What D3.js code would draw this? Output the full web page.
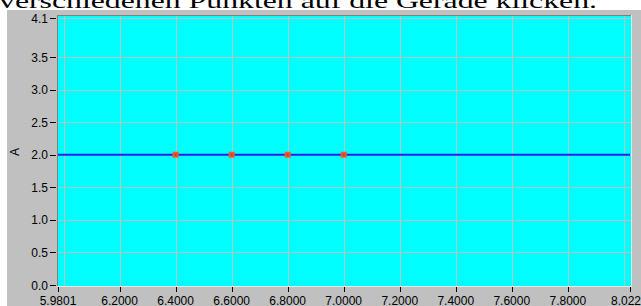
<!DOCTYPE html>
<html><head><meta charset="utf-8">
<script src="https://cdn.jsdelivr.net/npm/d3@7"></script>
<style>html,body{margin:0;padding:0;background:#fff;overflow:hidden}svg{display:block}</style>
</head><body>
<script>
// ---- data ----
const headingText = "verschiedenen Punkten auf die Gerade klicken.";
const yAxisLabel = "A";
const xMin = 5.9801, xMax = 8.022;
const yMin = 0.0, yMax = 4.1;
const xTickValues = [5.9801, 6.2, 6.4, 6.6, 6.8, 7.0, 7.2, 7.4, 7.6, 7.8, 8.022];
const xTickLabels = ["5.9801", "6.2000", "6.4000", "6.6000", "6.8000", "7.0000", "7.2000", "7.4000", "7.6000", "7.8000", "8.022"];
const xGridValues = [6.0, 6.2, 6.4, 6.6, 6.8, 7.0, 7.2, 7.4, 7.6, 7.8, 8.0];
const yTickValues = [0.0, 0.5, 1.0, 1.5, 2.0, 2.5, 3.0, 3.5, 4.1];
const yTickLabels = ["0.0", "0.5", "1.0", "1.5", "2.0", "2.5", "3.0", "3.5", "4.1"];
const yGridValues = [0.5, 1.0, 1.5, 2.0, 2.5, 3.0, 3.5, 4.1];
const lineX = [5.9801, 8.022];
const lineY = [2.0, 2.0];
const pointX = [6.4, 6.6, 6.8, 7.0];
const pointY = [2.0, 2.0, 2.0, 2.0];

// ---- layout ----
const W = 641, H = 306;
const svg = d3.select("body").append("svg").attr("width", W).attr("height", H);
const font = "'Liberation Sans', Arial, sans-serif";

// heading (clipped at top)
svg.append("text").attr("x", -1).attr("y", 8)
  .attr("font-family", "'Liberation Serif', 'Times New Roman', serif")
  .attr("font-size", 21).attr("fill", "#000")
  .attr("textLength", 598).attr("lengthAdjust", "spacingAndGlyphs")
  .text(headingText);

// grey panel
svg.append("rect").attr("x", 7).attr("y", 10).attr("width", W - 7).attr("height", H - 10).attr("fill", "#c0c0c0");

const x = d3.scaleLinear().domain([xMin, xMax]).range([58, 630]);
const y = d3.scaleLinear().domain([yMin, yMax]).range([285, 18]);

const pl = 58, pt = 16, pr = 631, pb = 286;
svg.append("rect").attr("x", pl).attr("y", pt).attr("width", pr - pl).attr("height", pb - pt).attr("fill", "#00ffff");

// grid
const g = svg.append("g");
g.selectAll("line.vg").data(xGridValues).join("line")
  .attr("x1", d => Math.round(x(d)) + 0.5).attr("x2", d => Math.round(x(d)) + 0.5)
  .attr("y1", pt).attr("y2", pb).attr("stroke", "#b8c4c4").attr("stroke-width", 1);
g.selectAll("line.hg").data(yGridValues).join("line")
  .attr("y1", d => Math.round(y(d)) + 0.5).attr("y2", d => Math.round(y(d)) + 0.5)
  .attr("x1", pl).attr("x2", pr).attr("stroke", "#b8c4c4").attr("stroke-width", 1);

// border (sunken)
svg.append("line").attr("x1", pl - 0.5).attr("x2", pl - 0.5).attr("y1", pt - 1).attr("y2", pb).attr("stroke", "#808080");
svg.append("line").attr("x1", pl - 1).attr("x2", pr).attr("y1", pt - 0.5).attr("y2", pt - 0.5).attr("stroke", "#808080");
svg.append("line").attr("x1", pr + 0.5).attr("x2", pr + 0.5).attr("y1", pt - 1).attr("y2", pb + 1).attr("stroke", "#e8e8e8");
svg.append("line").attr("x1", pl - 1).attr("x2", pr + 1).attr("y1", pb + 0.5).attr("y2", pb + 0.5).attr("stroke", "#e8e8e8");

// line
svg.append("path")
  .datum(lineX.map((d, i) => [d, lineY[i]]))
  .attr("d", d3.line().x(d => x(d[0])).y(d => y(d[1])))
  .attr("fill", "none").attr("stroke", "#0a28ff").attr("stroke-width", 2);

// points
svg.selectAll("rect.pt").data(pointX.map((d, i) => [d, pointY[i]])).join("rect")
  .attr("x", d => x(d[0]) - 3).attr("y", d => y(d[1]) - 3)
  .attr("width", 6).attr("height", 6).attr("fill", "#ee5a2a");
svg.selectAll("rect.pc").data(pointX.map((d, i) => [d, pointY[i]])).join("rect")
  .attr("x", d => x(d[0]) - 1).attr("y", d => y(d[1]) - 1)
  .attr("width", 2).attr("height", 2).attr("fill", "#d03030");

// y axis ticks
const ya = svg.append("g");
ya.selectAll("line").data(yTickValues).join("line")
  .attr("x1", 50).attr("x2", 56)
  .attr("y1", d => Math.round(y(d)) + 0.5).attr("y2", d => Math.round(y(d)) + 0.5)
  .attr("stroke", "#000");
ya.selectAll("text").data(yTickValues).join("text")
  .attr("x", 48).attr("y", d => y(d) + 4.5)
  .attr("text-anchor", "end").attr("font-family", font).attr("font-size", 12).attr("fill", "#000")
  .text((d, i) => yTickLabels[i]);

// x axis ticks
const xa = svg.append("g");
xa.selectAll("line").data(xTickValues).join("line")
  .attr("x1", d => Math.round(x(d)) + 0.5).attr("x2", d => Math.round(x(d)) + 0.5)
  .attr("y1", 287).attr("y2", 292).attr("stroke", "#000");
xa.selectAll("text").data(xTickValues).join("text")
  .attr("x", (d, i) => i === xTickValues.length - 1 ? 611 : x(d))
  .attr("y", 305)
  .attr("text-anchor", (d, i) => i === xTickValues.length - 1 ? "start" : "middle")
  .attr("font-family", font).attr("font-size", 12).attr("fill", "#000")
  .text((d, i) => xTickLabels[i]);

// y axis label
svg.append("text").attr("transform", "translate(19,152) rotate(-90)")
  .attr("text-anchor", "middle").attr("font-family", font).attr("font-size", 12).attr("fill", "#000")
  .text(yAxisLabel);
</script>
</body></html>
